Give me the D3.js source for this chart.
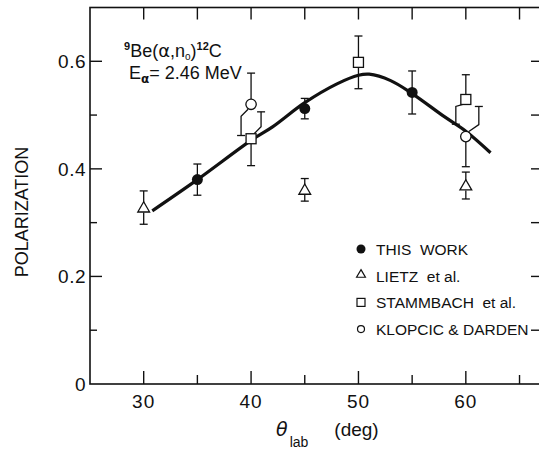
<html>
  <head>
    <meta charset="utf-8">
    <title>Polarization vs angle</title>
    <style>
      body { margin: 0; background: #fff; }
      text { font-family: "Liberation Sans", Arial, Helvetica, sans-serif; fill: #111; }
    </style>
  </head>
  <body>
    <script src="https://d3js.org/d3.v7.min.js"></script>
    <script>
      // data
      var thisWorkTheta = [35, 45, 55];
      var thisWorkPol = [0.380, 0.512, 0.542];
      var thisWorkErr = [0.029, 0.019, 0.040];

      var lietzTheta = [30, 45, 60];
      var lietzPol = [0.328, 0.361, 0.369];
      var lietzErr = [0.031, 0.021, 0.025];

      var stammTheta = [40, 50, 60];
      var stammPol = [0.456, 0.598, 0.529];
      var stammErr = [0.050, 0.049, 0.046];

      var klopTheta = [40, 60];
      var klopPol = [0.520, 0.460];
      var klopErr = [0.058, 0.056];

      var fitTheta = [30.8, 35, 40, 42, 45, 48, 50, 51, 53, 55, 58, 60, 62.3];
      var fitPol = [0.322, 0.380, 0.453, 0.478, 0.523, 0.558, 0.574, 0.576, 0.564, 0.540, 0.497, 0.470, 0.430];

      var xTickLabels = [30, 40, 50, 60];
      var yTickLabels = [0, 0.2, 0.4, 0.6];
      var legendLabels = ['THIS  WORK', 'LIETZ  et al.', 'STAMMBACH  et al.', 'KLOPCIC & DARDEN'];

      var W = 539, H = 450;
      var LEFT = 90, RIGHT = 541, TOP = 7.5, BOTTOM = 384;

      var x = d3.scaleLinear().domain([25, 67]).range([LEFT, RIGHT]);
      var y = d3.scaleLinear().domain([0, 0.7]).range([BOTTOM, TOP]);

      var svg = d3.select('body').append('svg')
        .attr('width', W)
        .attr('height', H);

      var ink = '#111';

      // frame
      svg.append('rect')
        .attr('x', LEFT).attr('y', TOP)
        .attr('width', RIGHT - LEFT).attr('height', BOTTOM - TOP)
        .attr('fill', 'none').attr('stroke', ink).attr('stroke-width', 1.6);

      // bottom axis: major ticks with labels, minor ticks between
      var xMinor = d3.range(30, 67, 5);
      svg.append('g').selectAll('line').data(xMinor).enter().append('line')
        .attr('x1', function(d) { return x(d); })
        .attr('x2', function(d) { return x(d); })
        .attr('y1', BOTTOM)
        .attr('y2', function(d) { return BOTTOM - (d % 10 === 0 ? 13 : 9); })
        .attr('stroke', ink).attr('stroke-width', 1.4);

      // top axis ticks
      svg.append('g').selectAll('line').data(xMinor).enter().append('line')
        .attr('x1', function(d) { return x(d); })
        .attr('x2', function(d) { return x(d); })
        .attr('y1', TOP)
        .attr('y2', TOP + 12)
        .attr('stroke', ink).attr('stroke-width', 1.4);

      svg.append('g').selectAll('text').data(xTickLabels).enter().append('text')
        .attr('x', function(d) { return x(d); })
        .attr('y', 408)
        .attr('text-anchor', 'middle')
        .attr('font-size', '19px')
        .attr('letter-spacing', '1px')
        .text(function(d) { return d; });

      // left axis
      var yMinor = d3.range(0.1, 0.7, 0.1);
      svg.append('g').selectAll('line').data(yMinor).enter().append('line')
        .attr('x1', LEFT)
        .attr('x2', function(d, i) { return LEFT + (i % 2 === 1 ? 12 : 7); })
        .attr('y1', function(d) { return y(d); })
        .attr('y2', function(d) { return y(d); })
        .attr('stroke', ink).attr('stroke-width', 1.4);

      // right axis ticks
      svg.append('g').selectAll('line').data(yMinor).enter().append('line')
        .attr('x1', 539)
        .attr('x2', 531)
        .attr('y1', function(d) { return y(d); })
        .attr('y2', function(d) { return y(d); })
        .attr('stroke', ink).attr('stroke-width', 1.4);

      svg.append('g').selectAll('text').data(yTickLabels).enter().append('text')
        .attr('x', 86)
        .attr('y', function(d) { return y(d) + 7; })
        .attr('text-anchor', 'end')
        .attr('font-size', '19px')
        .attr('letter-spacing', '0.5px')
        .text(function(d) { return d === 0 ? '0' : d3.format('.1f')(d); });

      // axis titles
      svg.append('text')
        .attr('transform', 'translate(28,212) rotate(-90)')
        .attr('text-anchor', 'middle')
        .attr('font-size', '18px')
        .text('POLARIZATION');

      var xt = svg.append('text')
        .attr('x', 276).attr('y', 436)
        .attr('font-size', '19px');
      xt.append('tspan').attr('font-style', 'italic').attr('font-family', 'DejaVu Sans').text('θ');
      xt.append('tspan').attr('font-size', '14px').attr('dy', 11).attr('dx', 2).text('lab');
      xt.append('tspan').attr('dy', -11).attr('dx', 26).text('(deg)');

      // reaction label
      var r1 = svg.append('text').attr('x', 124).attr('y', 57).attr('font-size', '18px');
      r1.append('tspan').attr('font-size', '11px').attr('font-weight', 'bold').attr('dy', -7).text('9');
      r1.append('tspan').attr('dy', 7).text('Be(');
      r1.append('tspan').attr('font-family', 'DejaVu Sans').text('α');
      r1.append('tspan').text(',n');
      r1.append('tspan').attr('font-size', '10px').attr('dy', 3).text('o');
      r1.append('tspan').attr('dy', -3).text(')');
      r1.append('tspan').attr('font-size', '11px').attr('font-weight', 'bold').attr('dy', -7).text('12');
      r1.append('tspan').attr('dy', 7).text('C');

      var r2 = svg.append('text').attr('x', 129).attr('y', 79).attr('font-size', '18px');
      r2.append('tspan').text('E');
      r2.append('tspan').attr('font-size', '12px').attr('font-family', 'DejaVu Sans').attr('font-weight', 'bold').attr('dy', 4).text('α');
      r2.append('tspan').attr('dy', -4).text('= 2.46  MeV');

      // fit curve
      var fit = fitTheta.map(function(t, i) { return [t, fitPol[i]]; });
      svg.append('path')
        .datum(fit)
        .attr('fill', 'none')
        .attr('stroke', ink)
        .attr('stroke-width', 3.2)
        .attr('d', d3.line()
          .x(function(d) { return x(d[0]); })
          .y(function(d) { return y(d[1]); })
          .curve(d3.curveCatmullRom));

      function pts(th, p, e) {
        return th.map(function(t, i) { return { t: t, p: p[i], e: e[i] }; });
      }

      // sideways shift of crowded half bars (pixels), keyed by series and angle
      var shifts = {
        'stamm40': { up: 10, jog: 7 },
        'klop40': { down: -10, jog: 7 },
        'stamm60': { down: -10, jog: 2 },
        'klop60': { up: 13, jog: 7 }
      };

      var bars = svg.append('g')
        .attr('stroke', ink).attr('stroke-width', 1.3).attr('fill', 'none');

      function drawBars(key, data, half) {
        data.forEach(function(d) {
          var cx = x(d.t), cy = y(d.p);
          var s = shifts[key + d.t] || {};
          ['up', 'down'].forEach(function(dir) {
            var end = y(dir === 'up' ? d.p + d.e : d.p - d.e);
            var sign = dir === 'up' ? -1 : 1;
            var start = cy + sign * half;
            var dx = s[dir] || 0;
            var path;
            if (dx) {
              var jogY = start + sign * s.jog;
              path = 'M' + (cx + (dx > 0 ? 3 : -3)) + ',' + start + 'L' + (cx + dx) + ',' + jogY + 'L' + (cx + dx) + ',' + end;
            } else {
              path = 'M' + cx + ',' + start + 'L' + cx + ',' + end;
            }
            bars.append('path').attr('d', path);
            bars.append('line')
              .attr('x1', cx + dx - 4).attr('x2', cx + dx + 4)
              .attr('y1', end).attr('y2', end);
          });
        });
      }

      var thisWork = pts(thisWorkTheta, thisWorkPol, thisWorkErr);
      var lietz = pts(lietzTheta, lietzPol, lietzErr);
      var stamm = pts(stammTheta, stammPol, stammErr);
      var klop = pts(klopTheta, klopPol, klopErr);

      drawBars('this', thisWork, 0);
      drawBars('lietz', lietz, 5);
      drawBars('stamm', stamm, 5);
      drawBars('klop', klop, 5);

      var tri = d3.symbol().type(d3.symbolTriangle);

      svg.append('g').selectAll('circle').data(thisWork).enter().append('circle')
        .attr('cx', function(d) { return x(d.t); })
        .attr('cy', function(d) { return y(d.p); })
        .attr('r', 5.5).attr('fill', ink);

      svg.append('g').selectAll('path').data(lietz).enter().append('path')
        .attr('transform', function(d) { return 'translate(' + x(d.t) + ',' + (y(d.p) + 1) + ')'; })
        .attr('d', tri.size(60)())
        .attr('fill', '#fff').attr('stroke', ink).attr('stroke-width', 1.3);

      svg.append('g').selectAll('rect').data(stamm).enter().append('rect')
        .attr('x', function(d) { return x(d.t) - 5; })
        .attr('y', function(d) { return y(d.p) - 5; })
        .attr('width', 10).attr('height', 10)
        .attr('fill', '#fff').attr('stroke', ink).attr('stroke-width', 1.3);

      svg.append('g').selectAll('circle').data(klop).enter().append('circle')
        .attr('cx', function(d) { return x(d.t); })
        .attr('cy', function(d) { return y(d.p); })
        .attr('r', 5.2)
        .attr('fill', '#fff').attr('stroke', ink).attr('stroke-width', 1.3);

      // legend
      var lg = svg.append('g').attr('transform', 'translate(361,249)');
      var rowH = 26.7;
      lg.selectAll('text').data(legendLabels).enter().append('text')
        .attr('x', 15)
        .attr('y', function(d, i) { return i * rowH + 6; })
        .attr('font-size', '15.5px')
        .style('white-space', 'pre')
        .text(function(d) { return d; });

      lg.append('circle').attr('cx', 0).attr('cy', 0).attr('r', 4.5).attr('fill', ink);
      lg.append('path').attr('transform', 'translate(0,' + (rowH - 1) + ')')
        .attr('d', tri.size(34)())
        .attr('fill', 'none').attr('stroke', ink).attr('stroke-width', 1.2);
      lg.append('rect').attr('x', -4).attr('y', 2 * rowH - 4).attr('width', 8).attr('height', 8)
        .attr('fill', 'none').attr('stroke', ink).attr('stroke-width', 1.2);
      lg.append('circle').attr('cx', 0).attr('cy', 3 * rowH).attr('r', 3.5)
        .attr('fill', 'none').attr('stroke', ink).attr('stroke-width', 1.2);
    </script>
  </body>
</html>
